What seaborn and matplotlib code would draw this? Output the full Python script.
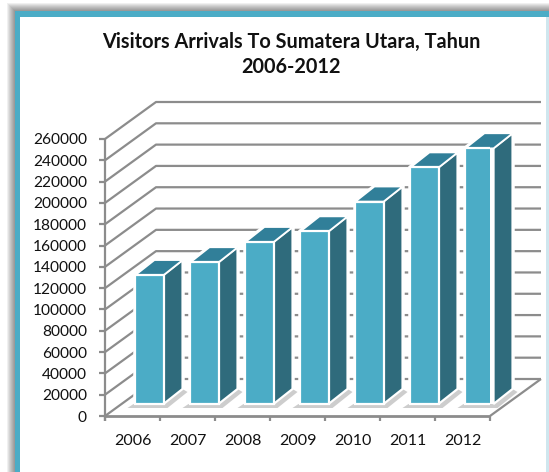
import matplotlib
matplotlib.use('Agg')
import matplotlib.pyplot as plt
from matplotlib.patches import Polygon, Rectangle
from matplotlib.lines import Line2D
from matplotlib.transforms import Affine2D, IdentityTransform
import pandas as pd
import seaborn as sns

anos = ['2006', '2007', '2008', '2009', '2010', '2011', '2012']
visitantes = [121000, 133000, 152000, 162000, 190000, 222000, 240000]
ticks_y = list(range(0, 260001, 20000))
titulo = 'Visitors Arrivals To Sumatera Utara, Tahun\n2006-2012'

W, H = 549, 472
fig = plt.figure(figsize=(W / 100, H / 100), dpi=100)
plt.rcParams['font.family'] = ['Lato', 'DejaVu Sans']

ax = fig.add_axes([105 / W, 1 - 416 / H, 385 / W, 277 / H])
df = pd.DataFrame({'ano': anos, 'visitantes': visitantes})
sns.barplot(data=df, x='ano', y='visitantes', color='#4BACC6', saturation=1, width=0.51, ax=ax, zorder=5)
ax.set_ylim(0, 260000)
ax.set_yticks(ticks_y)
ax.set_xlim(-0.5, 6.5)
ax.set_xlabel('')
ax.set_ylabel('')
ax.patch.set_alpha(0)
for s in ax.spines.values():
    s.set_visible(False)
ax.tick_params(axis='y', length=0, labelsize=11.2, pad=13, labelcolor='#111111')
ax.tick_params(axis='x', length=0, labelsize=11.5, pad=13, labelcolor='#111111')

cinza = '#8C8C8C'
fundo_dx, fundo_dy = 51, 37   # profundidade do "piso" em pixels
t_px = IdentityTransform()

def linha(xs, ys, z=1, lw=1.6, cor=cinza):
    fig.add_artist(Line2D(xs, ys, transform=t_px, color=cor, lw=lw, zorder=z, solid_capstyle='butt'))

fig.canvas.draw()
x0 = ax.transData.transform((-0.5, 0))[0]
x1 = ax.transData.transform((6.5, 0))[0]

# paredes com as linhas de grade
for v in ticks_y:
    y = ax.transData.transform((0, v))[1]
    linha([x0, x0 + fundo_dx, x1 + fundo_dx], [y, y + fundo_dy, y + fundo_dy])
    linha([x0 - 6, x0], [y, y])
y0 = ax.transData.transform((0, 0))[1]
y_top = ax.transData.transform((0, 260000))[1]
linha([x0, x0], [y0 - 5, y_top], z=2)
linha([x0, x1], [y0, y0], z=2, lw=2)
linha([x1, x1 + fundo_dx], [y0, y0 + fundo_dy], z=2)
for i in range(8):
    xt = ax.transData.transform((i - 0.5, 0))[0]
    linha([xt, xt], [y0 - 5, y0], z=2)

# barras em 3D: frente vem do seaborn, lado e topo saem dos patches
desl = Affine2D().translate(17, 12)
prof_dx, prof_dy = 19, 15
for p in ax.patches:
    (xa, ya), (xb, yb) = ax.transData.transform([(p.get_x(), 0), (p.get_x() + p.get_width(), p.get_height())])
    xa, xb, ya, yb = xa + 17, xb + 17, ya + 12, yb + 12
    p.set_transform(ax.transData + desl)
    p.set_edgecolor('white')
    p.set_linewidth(1.6)
    # halo branco que corta as linhas de grade atras da barra
    fig.add_artist(Polygon([(xa, ya), (xb, ya), (xb + prof_dx, ya + prof_dy), (xb + prof_dx, yb + prof_dy), (xa + prof_dx, yb + prof_dy), (xa, yb)],
                           transform=t_px, facecolor='white', edgecolor='white', lw=3.2, zorder=2.5))
    # sombra no piso
    fig.add_artist(Polygon([(xa - 8, ya - 4), (xb + 4, ya - 4), (xb + prof_dx + 5, ya + prof_dy - 3), (xb + prof_dx, ya + prof_dy), (xb, ya), (xa - 2, ya)],
                           transform=t_px, facecolor='#CDCDCD', edgecolor='none', zorder=3))
    fig.add_artist(Polygon([(xb, ya), (xb + prof_dx, ya + prof_dy), (xb + prof_dx, yb + prof_dy), (xb, yb)],
                           transform=t_px, facecolor='#2F6B7C', edgecolor='white', lw=1.6, zorder=4))
    fig.add_artist(Polygon([(xa, yb), (xb, yb), (xb + prof_dx, yb + prof_dy), (xa + prof_dx, yb + prof_dy)],
                           transform=t_px, facecolor='#317F99', edgecolor='white', lw=1.2, zorder=4))
ax.set_zorder(6)

# moldura do cartao com sombra esfumada
for d in range(1, 9):
    fig.add_artist(Rectangle(((15 - d) / W, 0), 1, 1 - (10.5 - d) / H, transform=fig.transFigure,
                             facecolor='black', alpha=0.06, edgecolor='none', zorder=-5))
fig.add_artist(Rectangle((15 / W, 0), 1, 1 - 10.5 / H, transform=fig.transFigure, facecolor='#4BACC6', edgecolor='none', zorder=-3))
fig.add_artist(Rectangle((20 / W, 0), 1, 1 - 16.5 / H, transform=fig.transFigure, facecolor='white', edgecolor='none', zorder=-2))
fig.add_artist(Rectangle((546 / W, 0), 3 / W, 1 - 16.5 / H, transform=fig.transFigure, facecolor='#CFE6EE', edgecolor='none', zorder=-1))

fig.text(291 / W, 1 - 54.5 / H, titulo, ha='center', va='center', fontsize=14.3, fontweight='bold', color='#111111', linespacing=1.3)

fig.savefig('out.png', dpi=100)
